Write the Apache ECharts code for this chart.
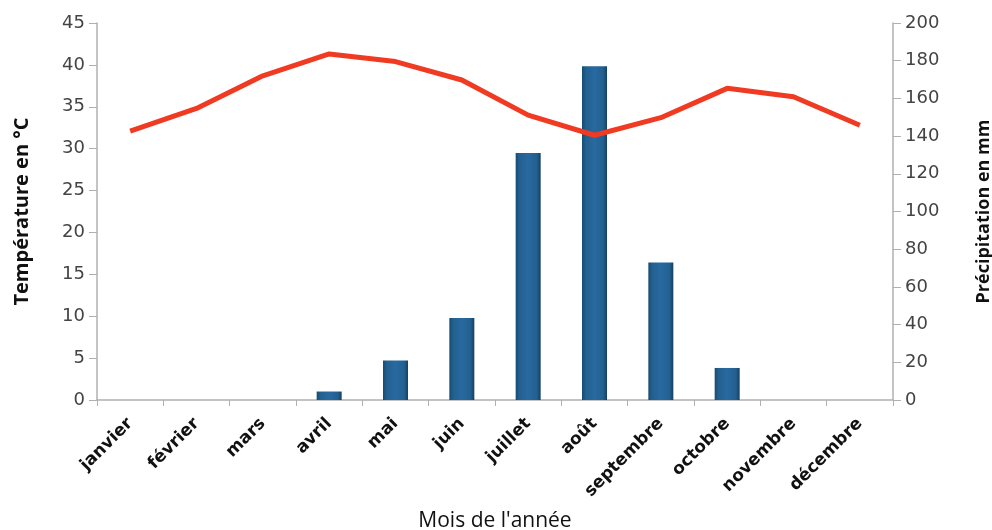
<!DOCTYPE html>
<html><head><meta charset="utf-8">
<script src="https://cdn.jsdelivr.net/npm/echarts@6/dist/echarts.min.js"></script>
<style>html,body{margin:0;padding:0;background:#fff}#c{width:992px;height:530px}</style>
</head><body><div id="c"></div>
<script>
const months = ['janvier','février','mars','avril','mai','juin','juillet','août','septembre','octobre','novembre','décembre'];
const temperature = [32.1, 34.8, 38.7, 41.3, 40.4, 38.2, 34.0, 31.6, 33.7, 37.2, 36.2, 32.8];
const precipitation = [0, 0, 0, 4.5, 21, 43.5, 131, 177, 73, 17, 0, 0];
const tempTicks = {min: 0, max: 45, interval: 5};
const precTicks = {min: 0, max: 200, interval: 20};

const chart = echarts.init(document.getElementById('c'), null, {renderer: 'canvas'});
const axisGrey = '#b0b0b0';
const font = '"Open Sans", "DejaVu Sans", sans-serif';
const wide = '"DejaVu Sans", sans-serif';
chart.setOption({
  animation: false,
  grid: {left: 97, right: 99, top: 23, bottom: 130, containLabel: false, outerBoundsMode: 'none'},
  xAxis: {
    type: 'category', data: months, boundaryGap: true,
    name: "Mois de l'année", nameLocation: 'middle', nameGap: 111,
    nameTextStyle: {fontFamily: font, fontSize: 21, color: '#111', verticalAlign: 'top'},
    axisLine: {lineStyle: {color: axisGrey, width: 1.5}},
    axisTick: {show: true, length: 6, lineStyle: {color: axisGrey}},
    axisLabel: {rotate: 45, interval: 0, margin: 21, fontFamily: wide, fontSize: 17, fontWeight: 'bold', color: '#111'}
  },
  yAxis: [{
    type: 'value', min: tempTicks.min, max: tempTicks.max, interval: tempTicks.interval,
    name: 'Température en °C', nameLocation: 'middle', nameGap: 65, nameRotate: 90,
    nameTextStyle: {fontFamily: font, fontSize: 20, fontWeight: 'bold', color: '#111'},
    splitLine: {show: false},
    axisLine: {show: true, lineStyle: {color: axisGrey, width: 1.5}},
    axisTick: {show: true, length: 8, lineStyle: {color: axisGrey}},
    axisLabel: {fontFamily: wide, fontSize: 18, color: '#444', margin: 12}
  }, {
    type: 'value', min: precTicks.min, max: precTicks.max, interval: precTicks.interval, position: 'right',
    name: 'Précipitation en mm', nameLocation: 'middle', nameGap: 82, nameRotate: 90,
    nameTextStyle: {fontFamily: font, fontSize: 18, fontWeight: 'bold', color: '#111'},
    splitLine: {show: false},
    axisLine: {show: true, lineStyle: {color: axisGrey, width: 1.5}},
    axisTick: {show: true, length: 8, lineStyle: {color: axisGrey}},
    axisLabel: {fontFamily: wide, fontSize: 18, color: '#444', margin: 12}
  }],
  series: [{
    type: 'bar', yAxisIndex: 1, data: precipitation, barWidth: 25,
    itemStyle: {
      color: new echarts.graphic.LinearGradient(0, 0, 1, 0, [
        {offset: 0, color: '#174a72'}, {offset: 0.15, color: '#22608f'},
        {offset: 0.5, color: '#2869a0'}, {offset: 0.85, color: '#22608f'}, {offset: 1, color: '#153f63'}
      ])
    }
  }, {
    type: 'line', yAxisIndex: 0, data: temperature, symbol: 'none',
    lineStyle: {color: '#f03a22', width: 5}, z: 5
  }]
});
</script></body></html>
